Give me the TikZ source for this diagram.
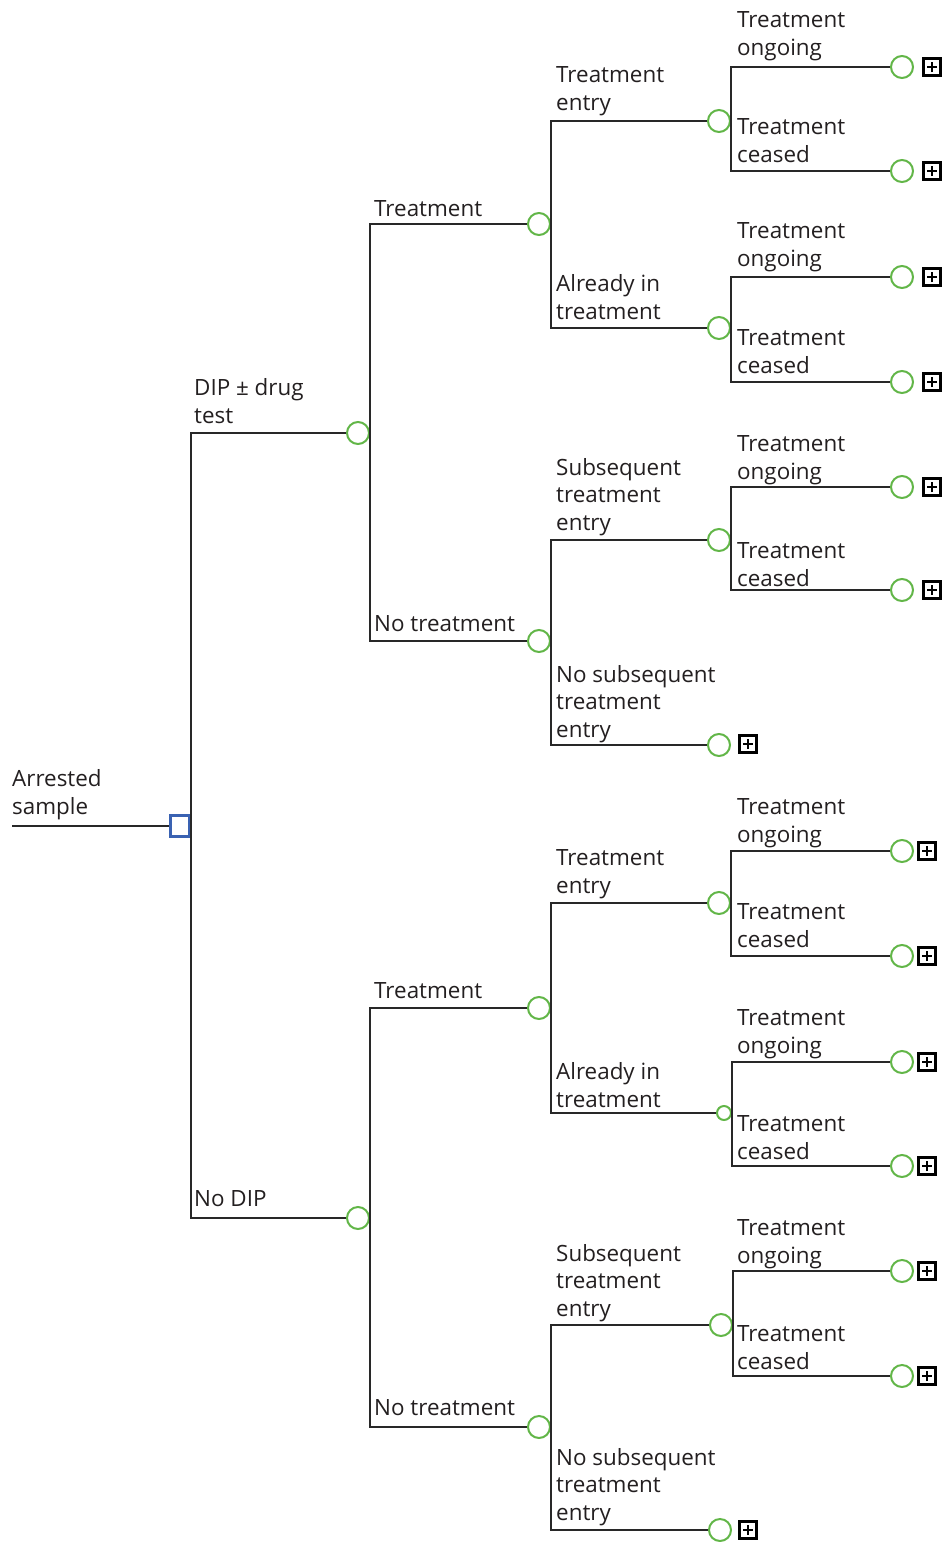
\documentclass[tikz,border=0pt]{standalone}
\usepackage{fontspec}
\setmainfont{Open Sans}
\definecolor{gc}{RGB}{98,182,72}
\definecolor{bc}{RGB}{58,98,178}
\definecolor{lc}{RGB}{40,40,40}
\definecolor{tc}{RGB}{35,31,32}
\begin{document}
\begin{tikzpicture}[x=1pt,y=-1pt,
  ln/.style={draw=lc, line width=2.1pt},
  chance/.style={circle, draw=gc, line width=2pt, minimum size=22pt, inner sep=0pt, fill=white},
  smallchance/.style={chance, minimum size=14pt},
  decision/.style={rectangle, draw=bc, line width=2.6pt, minimum width=19pt, minimum height=21pt, inner sep=0pt, fill=white},
  plusbox/.style={rectangle, draw=black, line width=2.3pt, minimum size=17pt, inner sep=0pt,
    path picture={\draw[line width=2pt] ([xshift=-5pt]path picture bounding box.center) -- ([xshift=5pt]path picture bounding box.center);
                  \draw[line width=2pt] ([yshift=-5pt]path picture bounding box.center) -- ([yshift=5pt]path picture bounding box.center);}},
  lbl/.style={anchor=base west, align=left, inner sep=0pt, text=tc, font=\fontsize{22.4}{27.3}\selectfont}
]
\useasboundingbox (0,0) rectangle (943,1542);

% root
\coordinate (R) at (12,826);
\node[decision] (D) at (180,826) {};
\draw[ln] (R) -- (D.west);

% level 1
\node[chance] (c1) at (358,433) {};
\node[chance] (c2) at (358,1218) {};
\draw[ln] (D.east) |- (c1.west);
\draw[ln] (D.east) |- (c2.west);

% level 2
\node[chance] (c11) at (539,224) {};
\node[chance] (c12) at (539,641) {};
\node[chance] (c21) at (539,1008) {};
\node[chance] (c22) at (539,1427) {};
\draw[ln] (c1.east) |- (c11.west);
\draw[ln] (c1.east) |- (c12.west);
\draw[ln] (c2.east) |- (c21.west);
\draw[ln] (c2.east) |- (c22.west);

% level 3
\node[chance] (c111) at (719,121) {};
\node[chance] (c112) at (719,328) {};
\node[chance] (c121) at (719,540) {};
\node[chance] (c122) at (719,745) {};
\node[chance] (c211) at (719,903) {};
\node[smallchance] (c212) at (724,1113) {};
\node[chance] (c221) at (721,1325) {};
\node[chance] (c222) at (720,1530) {};
\draw[ln] (c11.east) |- (c111.west);
\draw[ln] (c11.east) |- (c112.west);
\draw[ln] (c12.east) |- (c121.west);
\draw[ln] (c12.east) |- (c122.west);
\draw[ln] (c21.east) |- (c211.west);
\draw[ln] (c21.east) |- (c212.west);
\draw[ln] (c22.east) |- (c221.west);
\draw[ln] (c22.east) |- (c222.west);
\node[plusbox] (p122) at (748,744) {};
\node[plusbox] (p222) at (748,1530) {};

% level 4
\foreach \pn/\ya/\yb/\bx in {c111/67/171/932, c112/277/382/932, c121/487/590/932,
                              c211/851/956/927, c212/1062/1166/927, c221/1271/1376/927}{
  \node[chance] (\pn a) at (902,\ya) {};
  \node[chance] (\pn b) at (902,\yb) {};
  \draw[ln] (\pn.east) |- (\pn a.west);
  \draw[ln] (\pn.east) |- (\pn b.west);
  \node[plusbox] (\pn pa) at (\bx,\ya) {};
  \node[plusbox] (\pn pb) at (\bx,\yb) {};
}

% labels (coordinates = baseline of the last line)
\node[lbl] (tR) at (12,814) {Arrested\\sample};
\node[lbl] (t1) at (194,423) {DIP ± drug\\test};
\node[lbl] (t2) at (194,1206) {No DIP};
\node[lbl] (t11) at (374,216) {Treatment};
\node[lbl] (t12) at (374,631) {No treatment};
\node[lbl] (t21) at (374,998) {Treatment};
\node[lbl] (t22) at (374,1415) {No treatment};
\node[lbl] (t111) at (556,110) {Treatment\\entry};
\node[lbl] (t112) at (556,319) {Already in\\treatment};
\node[lbl] (t121) at (556,530) {Subsequent\\treatment\\entry};
\node[lbl] (t122) at (556,737) {No subsequent\\treatment\\entry};
\node[lbl] (t211) at (556,893) {Treatment\\entry};
\node[lbl] (t212) at (556,1107) {Already in\\treatment};
\node[lbl] (t221) at (556,1316) {Subsequent\\treatment\\entry};
\node[lbl] (t222) at (556,1520) {No subsequent\\treatment\\entry};
\foreach \i/\yo/\yc in {1/55/162, 2/266/373, 3/479/586, 4/842/947, 5/1053/1159, 6/1263/1369}{
  \node[lbl] (to\i) at (737,\yo) {Treatment\\ongoing};
  \node[lbl] (tc\i) at (737,\yc) {Treatment\\ceased};
}
\end{tikzpicture}
\end{document}
